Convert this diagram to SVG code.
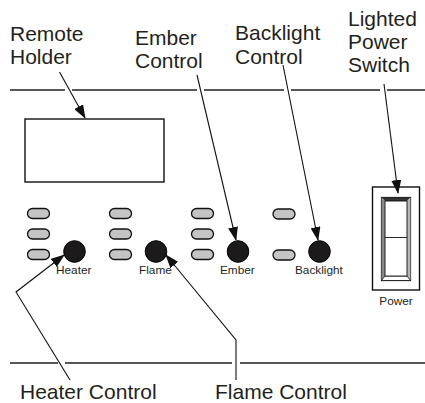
<svg xmlns="http://www.w3.org/2000/svg" width="425" height="403" viewBox="0 0 425 403">
<style>
.lbl{font-family:"Liberation Sans",Arial,sans-serif;font-size:21px;fill:#231f20}
.sm{font-family:"Liberation Sans",Arial,sans-serif;font-size:11.8px;fill:#231f20}
.rule{stroke:#231f20;stroke-width:1.5;fill:none}
.led{fill:#c4c4c4;stroke:#111;stroke-width:1.3}
.btn{fill:#1c1a1a;stroke:#000;stroke-width:1}
.lead{stroke:#111;stroke-width:1.1;fill:none}
.box{fill:#fff;stroke:#111;stroke-width:1.4}
</style>
<defs>
<marker id="ah" viewBox="0 0 14 10" refX="13" refY="5" markerWidth="14" markerHeight="10" markerUnits="userSpaceOnUse" orient="auto">
<path d="M0,0 L14,5 L0,10 Z" fill="#111"/>
</marker>
</defs>
<g id="panel-lines">
<path class="rule" d="M10,90 H65 M72,90 H197 M204,90 H284 M291,90 H380 M387,90 H425"/>
<path class="rule" d="M10,363 H58 M65,363 H232 M240,363 H425"/>
</g>
<g id="remote-holder">
<rect class="box" x="25" y="119" width="139" height="63"/>
<text class="lbl" x="10" y="40.5">Remote</text>
<text class="lbl" x="10" y="63.5">Holder</text>
</g>
<g id="heater">
<rect class="led" x="27.5" y="208.5" width="22" height="10" rx="5"/>
<rect class="led" x="27.5" y="229" width="22" height="10" rx="5"/>
<rect class="led" x="27.5" y="249.5" width="22" height="10" rx="5"/>
<circle class="btn" cx="74.5" cy="251.5" r="10.8"/>
<text class="sm" x="56" y="274">Heater</text>
</g>
<g id="flame">
<rect class="led" x="109.5" y="208.5" width="22" height="10" rx="5"/>
<rect class="led" x="109.5" y="229" width="22" height="10" rx="5"/>
<rect class="led" x="109.5" y="249.5" width="22" height="10" rx="5"/>
<circle class="btn" cx="156" cy="251.5" r="10.8"/>
<text class="sm" x="139" y="274">Flame</text>
</g>
<g id="ember">
<rect class="led" x="191.5" y="208.5" width="22" height="10" rx="5"/>
<rect class="led" x="191.5" y="229" width="22" height="10" rx="5"/>
<rect class="led" x="191.5" y="249.5" width="22" height="10" rx="5"/>
<circle class="btn" cx="238" cy="251.5" r="10.8"/>
<text class="sm" x="220" y="274">Ember</text>
</g>
<g id="backlight">
<rect class="led" x="273" y="209" width="22" height="10" rx="5"/>
<rect class="led" x="273" y="250" width="22" height="10" rx="5"/>
<circle class="btn" cx="319.5" cy="251.5" r="10.8"/>
<text class="sm" x="295" y="274">Backlight</text>
</g>
<g id="power-switch">
<rect class="box" x="372.5" y="187" width="47" height="103"/>
<rect x="381.5" y="197.5" width="29" height="83" fill="#fff" stroke="#111" stroke-width="1.2"/>
<polygon points="381.5,197.5 410.5,197.5 407,201 385,201" fill="#333"/>
<polygon points="381.5,197.5 385,201 385,276 381.5,280.5" fill="#8a8a8a"/>
<polygon points="410.5,197.5 410.5,280.5 407,276 407,201" fill="#b5b5b5"/>
<polygon points="381.5,280.5 385,276 407,276 410.5,280.5" fill="#fff" stroke="#111" stroke-width="0.8"/>
<rect x="385" y="201" width="22" height="75" fill="#fff" stroke="#111" stroke-width="0.9"/>
<line x1="385" y1="237.5" x2="407" y2="237.5" stroke="#111" stroke-width="0.9"/>
<text class="sm" x="396" y="304.5" text-anchor="middle">Power</text>
</g>
<g id="callouts">
<text class="lbl" x="135" y="44.5">Ember</text>
<text class="lbl" x="135" y="68">Control</text>
<text class="lbl" x="235" y="40">Backlight</text>
<text class="lbl" x="235" y="63.5">Control</text>
<text class="lbl" x="348" y="26">Lighted</text>
<text class="lbl" x="348" y="49.3">Power</text>
<text class="lbl" x="348" y="72">Switch</text>
<text class="lbl" x="20" y="399">Heater Control</text>
<text class="lbl" x="215" y="399">Flame Control</text>
</g>
<g id="connectors">
<line class="lead" x1="59.5" y1="72" x2="85" y2="118" marker-end="url(#ah)"/>
<line class="lead" x1="197" y1="75" x2="236" y2="240" marker-end="url(#ah)"/>
<line class="lead" x1="283" y1="65" x2="318" y2="240" marker-end="url(#ah)"/>
<line class="lead" x1="384" y1="84" x2="398" y2="193" marker-end="url(#ah)"/>
<polyline class="lead" points="70,380 16,292 64,255" marker-end="url(#ah)"/>
<polyline class="lead" points="236,380 236,340 166,255" marker-end="url(#ah)"/>
</g>
</svg>
